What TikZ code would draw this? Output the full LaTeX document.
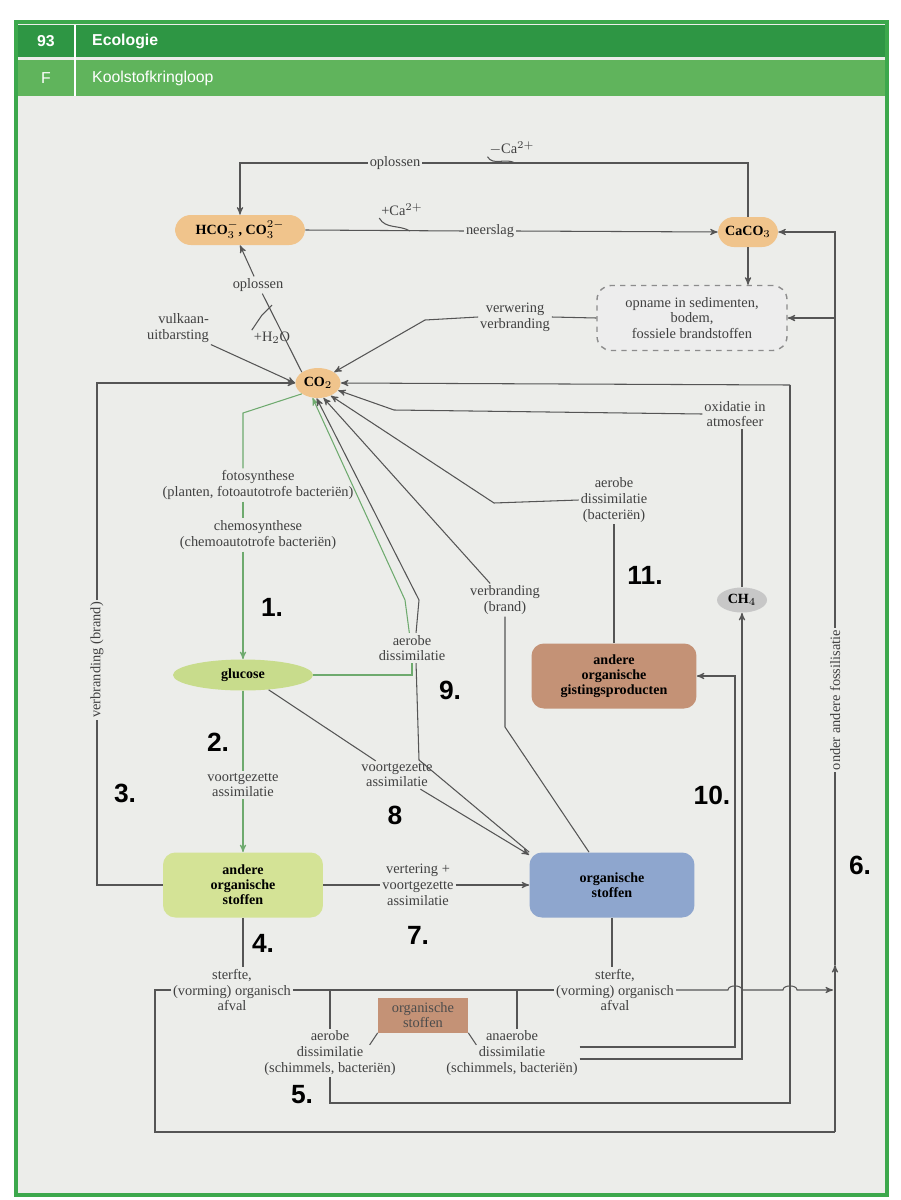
\documentclass[tikz,border=0pt]{standalone}
\usepackage{fontspec}
\setmainfont{Liberation Serif}
\newfontfamily\lab{Liberation Serif}
\newfontfamily\hdr{Liberation Sans}
\usetikzlibrary{calc,positioning,shapes.geometric,arrows}
\definecolor{panel}{RGB}{236,237,234}
\definecolor{frame}{RGB}{60,168,76}
\definecolor{barone}{RGB}{46,150,68}
\definecolor{bartwo}{RGB}{96,180,92}
\definecolor{caorange}{RGB}{240,196,140}
\definecolor{lgreen}{RGB}{212,227,150}
\definecolor{glgreen}{RGB}{200,220,140}
\definecolor{blbox}{RGB}{142,166,206}
\definecolor{brbox}{RGB}{196,146,118}
\definecolor{lline}{RGB}{85,85,85}
\definecolor{gline}{RGB}{110,170,110}
\tikzset{
  lbl/.style={font=\lab\fontsize{8.2}{9}\selectfont, text=black!75, align=center, inner sep=1pt},
  nr/.style={font=\hdr\bfseries\fontsize{15}{15}\selectfont},
  box/.style={rounded corners=7pt, font=\bfseries\fontsize{8}{8.6}\selectfont, align=center, inner sep=2pt},
  pill/.style={ellipse, font=\bfseries\fontsize{8}{8}\selectfont, inner sep=1pt},
  ln/.style={lline, line width=0.6pt},
  gl/.style={gline, line width=0.6pt},
  >=stealth'
}
\begin{document}
\begin{tikzpicture}[x=0.02cm, y=-0.02cm]
\useasboundingbox (0,0) rectangle (900,1200);
\fill[white] (0,0) rectangle (900,1200);
\fill[panel] (16,22) rectangle (887,1195);
\draw[frame, line width=2.2pt] (16,22) rectangle (887,1195);
% header
\fill[barone] (18,25) rectangle (885,57);
\fill[bartwo] (18,60) rectangle (885,96);
\draw[white, line width=1.5pt] (75,25) -- (75,96);
\node[white, font=\hdr\bfseries\small] at (46,41) {93};
\node[white, font=\hdr\bfseries\small, anchor=west] at (86,41) {Ecologie};
\node[white, font=\hdr\small] at (46,78) {F};
\node[white, font=\hdr\small, anchor=west] at (86,78) {Koolstofkringloop};

% nodes
\node[box, fill=caorange, rounded corners=9pt, minimum width=2.6cm, minimum height=0.6cm] (hco) at (240,230) {HCO$_3^{-}$, CO$_3^{2-}$};
\node[box, fill=caorange, rounded corners=9pt, minimum width=1.2cm, minimum height=0.6cm] (caco) at (748,232) {CaCO$_3$};
\node[lbl, draw=black!45, dashed, line width=0.8pt, fill=black!7, rounded corners=8pt, minimum width=3.8cm, minimum height=1.3cm] (sed) at (692,318) {opname in sedimenten,\\bodem,\\fossiele brandstoffen};
\node[pill, fill=caorange, minimum width=0.85cm, minimum height=0.6cm] (co2) at (318,383) {CO$_2$};
\node[pill, fill=glgreen, minimum width=2.8cm, minimum height=0.62cm] (glucose) at (243,675) {glucose};
\node[box, fill=lgreen, minimum width=3.2cm, minimum height=1.3cm] (aos) at (243,885) {andere\\organische\\stoffen};
\node[box, fill=blbox, minimum width=3.3cm, minimum height=1.3cm] (os) at (612,885) {organische\\stoffen};
\node[box, fill=brbox, minimum width=3.3cm, minimum height=1.3cm] (gist) at (614,676) {andere\\organische\\gistingsproducten};
\node[pill, fill=black!22, minimum width=1.0cm, minimum height=0.5cm] (ch4) at (742,600) {CH$_4$};
\node[lbl, fill=brbox, minimum width=1.8cm, minimum height=0.7cm, text=black!70] (os2) at (423,1015) {organische\\stoffen};

% labels
\node[lbl] (opl1) at (395,163) {oplossen};
\node[lbl] (mca) at (512,148) {$-$Ca$^{2+}$};
\node[lbl] (neer) at (490,231) {neerslag};
\node[lbl] (pca) at (402,210) {+Ca$^{2+}$};
\node[lbl] (opl2) at (258,285) {oplossen};
\node[lbl] (h2o) at (272,338) {+H$_2$O};
\node[lbl, align=right] (vulk) at (178,328) {vulkaan-\\uitbarsting};
\node[lbl] (verw) at (515,317) {verwering\\verbranding};
\node[lbl] (foto) at (258,485) {fotosynthese\\(planten, fotoautotrofe bacteriën)};
\node[lbl] (chemo) at (258,535) {chemosynthese\\(chemoautotrofe bacteriën)};
\node[lbl] (vass1) at (243,785) {voortgezette\\assimilatie};
\node[lbl] (aer1) at (412,648) {aerobe\\dissimilatie};
\node[lbl] (vass2) at (397,775) {voortgezette\\assimilatie};
\node[lbl] (verb) at (505,600) {verbranding\\(brand)};
\node[lbl] (aer2) at (614,500) {aerobe\\dissimilatie\\(bacteriën)};
\node[lbl] (oxi) at (735,414) {oxidatie in\\atmosfeer};
\node[lbl] (vert) at (418,885) {vertering +\\voortgezette\\assimilatie};
\node[lbl] (sterf1) at (232,990) {sterfte,\\(vorming) organisch\\afval};
\node[lbl] (sterf2) at (615,990) {sterfte,\\(vorming) organisch\\afval};
\node[lbl] (aer3) at (330,1053) {aerobe\\dissimilatie\\(schimmels, bacteriën)};
\node[lbl] (anaer) at (512,1053) {anaerobe\\dissimilatie\\(schimmels, bacteriën)};
\node[lbl, rotate=90, fill=panel] (fos) at (835,700) {onder andere fossilisatie};
\node[lbl, rotate=90, fill=panel] (verbr) at (97,660) {verbranding (brand)};

% numbers
\node[nr] at (272,607) {1.};
\node[nr] at (218,742) {2.};
\node[nr] at (125,793) {3.};
\node[nr] at (263,943) {4.};
\node[nr] at (302,1095) {5.};
\node[nr] at (860,865) {6.};
\node[nr] at (418,935) {7.};
\node[nr] at (395,815) {8};
\node[nr] at (450,690) {9.};
\node[nr] at (712,795) {10.};
\node[nr] at (645,575) {11.};

% helper points
\coordinate (cverw) at (425,320);
\coordinate (cfoto) at (243,413);
\coordinate (cg1) at (405,600);
\coordinate (cgr) at (419,600);
\coordinate (cgr2) at (419,760);
\coordinate (cvb1) at (505,727);
\coordinate (ca2) at (494,503);
\coordinate (cox) at (394,410);
\coordinate (ctop) at (790,385);
\coordinate (cd1) at (330,990);
\coordinate (cd2) at (517,990);
\coordinate (cl) at (155,990);
\coordinate (cbr) at (835,1132);
\coordinate (cmid) at (835,965);
\coordinate (cf) at (833,990);
\coordinate (cgi) at (735,676);
\coordinate (caer) at (330,1103);

% carbonate loop
\draw[ln] (caco.north) |- (opl1.east);
\draw[ln,->] (opl1.west) -| (hco.north);
\draw[ln] (mca.south west) to[out=-60,in=150] (515,163);
\draw[ln] (hco.east) -- (neer.west);
\draw[ln,->] (neer.east) -- (caco.west);
\draw[ln] (pca.south west) to[out=-60,in=150] (410,231);
\draw[ln,->] (caco.south) -- (caco.south |- sed.north);
\draw[ln] (co2.north west) -- (opl2);
\draw[ln,->] (opl2) -- (hco.south);
\draw[ln] (h2o.north west) -- (262,315) -- (272,305);
\draw[ln,->] (vulk.south east) -- (co2.west);
\draw[ln] (sed.west) -- (verw.east);
\draw[ln,->] (verw.west) -- (cverw) -- (co2.north east);

% photosynthesis and dissimilation
\draw[gl] (co2.south west) -- (cfoto) -- (cfoto |- foto.north);
\draw[gl] (cfoto |- foto.south) -- (cfoto |- chemo.north);
\draw[gl,->] (cfoto |- chemo.south) -- (glucose.north);
\draw[gl] (glucose) -- (vass1);
\draw[gl,->] (vass1) -- (aos);
\draw[gl] (glucose.east) -| (aer1.south);
\draw[gl,->] (aer1.100) -- (cg1) -- (co2.-110);
\draw[ln] (os.north west) -- (cgr2) -- (aer1.-75);
\draw[ln,->] (aer1.75) -- (cgr) -- (co2.-95);
\draw[ln] (glucose.-30) -- (vass2);
\draw[ln,->] (vass2) -- (os.160);
\draw[ln] (os.125) -- (cvb1) -- (verb);
\draw[ln,->] (verb) -- (co2.-70);
\draw[ln] (gist) -- (aer2);
\draw[ln,->] (aer2.west) -- (ca2) -- (co2.-45);
\draw[ln] (ch4) -- (ch4 |- oxi.south);
\draw[ln,->] (oxi.west) -- (cox) -- (co2.-20);
\draw[ln] (aos.west) -| (verbr);
\draw[ln,->] (verbr) |- (co2.west);
\draw[ln] (aos) -- (vert);
\draw[ln,->] (vert) -- (os);

% dead material
\draw[ln] (aos.south) -- (aos.south |- sterf1.north);
\draw[ln] (os.south) -- (os.south |- sterf2.north);
\draw[ln] (sterf1.east) -- (sterf2.west);
\draw[ln] (cd1) -- (cd1 |- aer3.north);
\draw[ln] (cd2) -- (cd2 |- anaer.north);
\draw[ln] (os2.south west) -- ++(-8,12);
\draw[ln] (os2.south east) -- ++(8,12);
\draw[ln] (sterf1.west) -- (cl) |- (cbr);
\draw[ln,->] (cbr) -- (cmid);
\draw[ln] (cmid) -- (fos);
\draw[ln,->] (fos) |- (caco.east);
\draw[ln,->] (835,318) -- (sed.east);
\draw[ln,->] (sterf2.east) -- (728,990) to[out=90,in=90] (742,990) -- (783,990) to[out=90,in=90] (797,990) -- (cf);
\draw[ln] (aer3) |- (caer) -| (ctop);
\draw[ln,->] (ctop) -- (co2.east);
\draw[ln,->] ($(anaer.east)+(0,-6)$) -| (cgi) -- (gist.east);
\draw[ln,->] ($(anaer.east)+(0,6)$) -| (ch4.south);
\end{tikzpicture}
\end{document}
